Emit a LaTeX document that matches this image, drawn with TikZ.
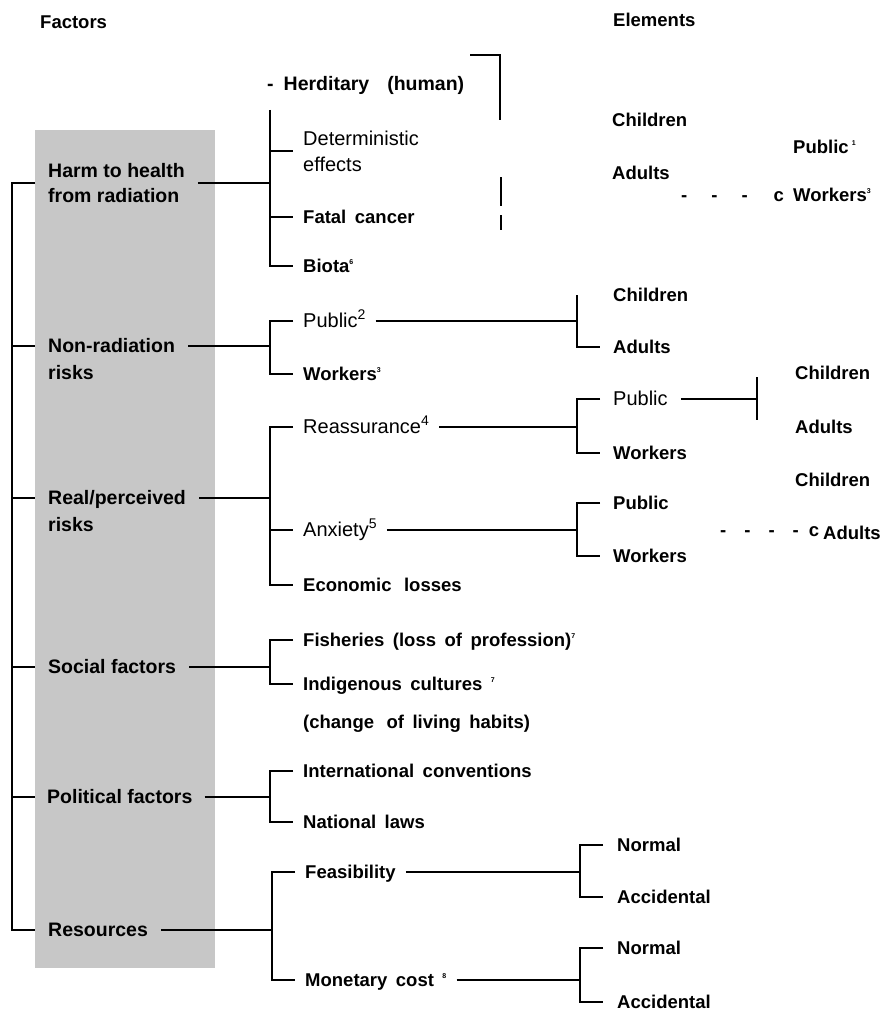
\documentclass[tikz,border=0pt]{standalone}
\usepackage{fontspec}
\newfontfamily\hel{Liberation Sans}
\newcommand\bfsz{\hel\bfseries\fontsize{18.5}{25}\selectfont\spaceskip=8.5pt plus 1pt}
\newcommand\fcsz{\hel\bfseries\fontsize{19.5}{25}\selectfont}
\newcommand\rgsz{\hel\mdseries\fontsize{20}{26}\selectfont}
\newcommand\tsup[1]{\raisebox{8.5pt}{\fontsize{7}{7}\selectfont #1}}
\newcommand\bsup[1]{\raisebox{8pt}{\hel\mdseries\fontsize{14}{14}\selectfont #1}}
\begin{document}
\begin{tikzpicture}[x=1pt,y=-1pt,
  ln/.style={line width=1.1pt},
  bt/.style={font=\bfsz, anchor=west, inner xsep=10pt, inner ysep=0pt, text height=13pt, text depth=0pt},
  rt/.style={bt, font=\rgsz},
  ft/.style={bt, font=\fcsz, inner xsep=13pt},
  ml/.style={font=\bfsz, anchor=west, inner xsep=10pt, inner ysep=0pt, align=left},
  el/.style={bt, inner xsep=13pt},
  free/.style={bt, inner xsep=0pt}
]
\useasboundingbox (0,0) rectangle (885,1014);
\fill[black!22] (35,130) rectangle (215,968);

% headers
\node[free] (hfac) at (40,22) {Factors};
\node[free] (helem) at (613,20) {Elements};

% factors
\node[ml, font=\fcsz, inner xsep=13pt] (harm) at (35,183) {Harm to health\\from radiation};
\node[ft] (nonrad) at (35,346) {Non-radiation};
\node[ft] (nonrad2) at (35,373) {risks};
\node[ft] (real) at (35,498) {Real/perceived};
\node[ft] (real2) at (35,525) {risks};
\node[ft] (social) at (35,667) {Social factors};
\node[ft, inner xsep=12pt] (polit) at (35,797) {Political factors};
\node[ft] (res) at (35,930) {Resources};

% level 2
\node[free, font=\hel\bfseries\fontsize{19.5}{25}\selectfont] (here) at (267,84) {-\hspace{10pt}Herditary\hspace{18pt}(human)};
\node[ml, font=\rgsz] (det) at (293,151) {Deterministic\\effects};
\node[bt] (fatal) at (293,217) {Fatal cancer};
\node[bt] (biota) at (293,266) {Biota\tsup{6}};
\node[rt] (pub2) at (293,321) {Public\bsup{2}};
\node[bt] (wk3) at (293,374) {Workers\tsup{3}};
\node[rt] (reas) at (293,427) {Reassurance\bsup{4}};
\node[rt] (anx) at (293,530) {Anxiety\bsup{5}};
\node[bt] (econ) at (293,585) {Economic\hspace{4pt} losses};
\node[bt] (fish) at (293,640) {Fisheries (loss of profession)\tsup{7}};
\node[bt] (indig) at (293,684) {Indigenous cultures \tsup{7}};
\node[bt] (indig2) at (293,722) {(change\hspace{4pt} of living habits)};
\node[bt] (intl) at (293,771) {International conventions};
\node[bt] (natl) at (293,822) {National laws};
\node[bt] (feas) at (295,872) {Feasibility};
\node[bt] (mon) at (295,980) {Monetary cost \tsup{8}};

% level 3
\node[el] (ch1) at (600,295) {Children};
\node[el] (ad1) at (600,347) {Adults};
\node[rt, inner xsep=13pt] (pubR) at (600,399) {Public};
\node[el] (wkR) at (600,453) {Workers};
\node[el] (pubA) at (600,503) {Public};
\node[el] (wkA) at (600,556) {Workers};
\node[el, inner xsep=14pt] (norm1) at (603,845) {Normal};
\node[el, inner xsep=14pt] (acc1) at (603,897) {Accidental};
\node[el, inner xsep=14pt] (norm2) at (603,948) {Normal};
\node[el, inner xsep=14pt] (acc2) at (603,1002) {Accidental};

% level 4
\node[free] (ch2) at (795,373) {Children};
\node[free] (ad2) at (795,427) {Adults};
\node[free] (ch3) at (795,480) {Children};
\node[free] (ad3) at (823,533) {Adults};
\node[free] (dash2) at (720,530) {-\hspace{18pt}-\hspace{18pt}-\hspace{18pt}-\hspace{10pt}c};

% top right
\node[free] (ch0) at (612,120) {Children};
\node[free] (ad0) at (612,173) {Adults};
\node[free] (pub1) at (793,147) {Public\,\tsup{1}};
\node[free] (wk0) at (793,195) {Workers\tsup{3}};
\node[free] (dash1) at (681,195) {-\hspace{24pt}-\hspace{24pt}-\hspace{26pt}c};

% bracket x positions
\coordinate (x1) at (12,0);
\coordinate (x2) at (270,0);
\coordinate (x2b) at (272,0);
\coordinate (x3) at (577,0);
\coordinate (x3b) at (580,0);
\coordinate (hTop) at (270,110);
\coordinate (v4a) at (757,377);
\coordinate (v4b) at (757,420);
\coordinate (tb1) at (470,55);
\coordinate (tb2) at (500,55);
\coordinate (tb3) at (500,120);
\coordinate (tb4) at (501,177);
\coordinate (tb5) at (501,206);
\coordinate (tb6) at (501,215);
\coordinate (tb7) at (501,230);

% level 1 connectors
\draw[ln] (harm.west) -| (x1 |- res.west) -- (res.west);
\foreach \n in {nonrad,real,social,polit} \draw[ln] (x1 |- \n.west) -- (\n.west);

% level 2 connectors
\draw[ln] (harm.east) -- (harm.east -| x2);
\draw[ln] (hTop) |- (biota.west);
\draw[ln] (det.west -| x2) -- (det.west);
\draw[ln] (fatal.west -| x2) -- (fatal.west);
\draw[ln] (nonrad.east) -- (nonrad.east -| x2);
\draw[ln] (pub2.west) -| (x2 |- wk3.west) -- (wk3.west);
\draw[ln] (real.east) -- (real.east -| x2);
\draw[ln] (reas.west) -| (x2 |- econ.west) -- (econ.west);
\draw[ln] (anx.west -| x2) -- (anx.west);
\draw[ln] (social.east) -- (social.east -| x2);
\draw[ln] (fish.west) -| (x2 |- indig.west) -- (indig.west);
\draw[ln] (polit.east) -- (polit.east -| x2);
\draw[ln] (intl.west) -| (x2 |- natl.west) -- (natl.west);
\draw[ln] (res.east) -- (res.east -| x2b);
\draw[ln] (feas.west) -| (x2b |- mon.west) -- (mon.west);

% level 3 connectors
\draw[ln] (pub2.east) -- (pub2.east -| x3);
\draw[ln] (x3 |- ch1.west) -- (x3 |- ad1.west) -- (ad1.west);
\draw[ln] (reas.east) -- (reas.east -| x3);
\draw[ln] (pubR.west) -| (x3 |- wkR.west) -- (wkR.west);
\draw[ln] (anx.east) -- (anx.east -| x3);
\draw[ln] (pubA.west) -| (x3 |- wkA.west) -- (wkA.west);
\draw[ln] (feas.east) -- (feas.east -| x3b);
\draw[ln] (norm1.west) -| (x3b |- acc1.west) -- (acc1.west);
\draw[ln] (mon.east) -- (mon.east -| x3b);
\draw[ln] (norm2.west) -| (x3b |- acc2.west) -- (acc2.west);

% level 4
\draw[ln] (pubR.east) -- (pubR.east -| v4a);
\draw[ln] (v4a) -- (v4b);

% top bracket fragments
\draw[ln] (tb1) -- (tb2) -- (tb3);
\draw[ln] (tb4) -- (tb5);
\draw[line width=2.6pt] (tb6) -- (tb7);
\end{tikzpicture}
\end{document}
